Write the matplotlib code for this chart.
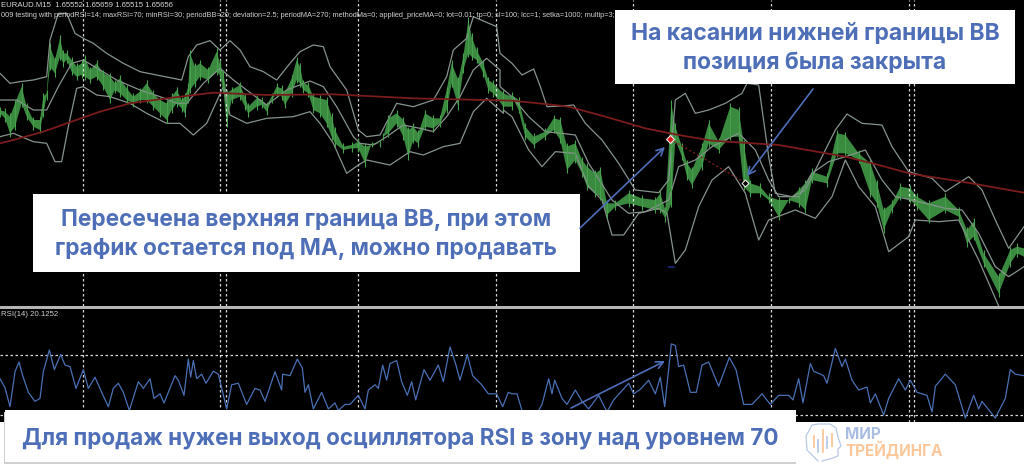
import numpy as np
import matplotlib
matplotlib.use('Agg')
import matplotlib.pyplot as plt

plt.rcParams['font.family'] = ['Inter', 'DejaVu Sans']

# everything, x in bars, y in chart units (top pane)
price_x_l = [0,15,30,45,65,80,100,120,130,140,150,165,180,190,200,215,230,245,255,270,290,310,330,345,360,380,400,420,440,460,480,500,515,530,545,555,565,570,585,600,625,650,660,670,680,695,720,735,745,770,785,800,815,830,845,855,875,890,900,910,925,940,960,980,995,1005,1030,1055,1075,1095,1115,1140,1150,1165,1190,1210,1225,1240,1255,1275,1300,1320,1340,1355,1375,1390,1405,1415,1430,1450,1465,1480,1510,1536]
price_hi_l = [320,325,340,300,250,310,350,350,280,270,130,170,105,150,150,170,190,180,165,200,180,210,220,240,225,255,280,265,240,270,290,300,280,260,290,280,250,150,190,180,200,145,180,210,270,260,245,280,310,285,290,305,280,250,255,270,225,170,190,240,245,280,285,290,340,380,430,425,415,430,425,420,400,345,330,350,380,370,390,330,345,345,260,180,230,160,50,100,140,180,230,240,270,280]
price_lo_l = [350,365,410,390,320,360,390,400,350,300,210,230,180,200,190,225,240,235,240,250,240,270,310,280,290,310,320,310,310,330,350,370,340,320,335,350,310,280,260,240,250,225,235,280,380,310,300,330,350,330,325,345,310,290,300,325,290,250,260,280,290,340,350,380,420,440,460,455,455,500,440,440,420,410,380,420,480,430,440,390,395,380,340,260,330,220,170,180,190,230,280,290,330,330]

price_x_r = [0,20,40,65,100,125,145,165,190,210,225,250,265,285,310,350,390,430,445,460,478,490,510,525,540,570,590,620,655,680,695,715,745,770,800,830,860,880,900,945,975,1000,1040,1075,1095,1115,1140,1165,1195,1215,1250,1300,1340,1365,1385,1415,1460,1495,1515,1536]
price_hi_r = [275,290,370,400,385,345,350,430,420,470,490,510,500,600,600,570,585,590,570,620,300,370,430,480,500,430,360,415,310,320,420,540,550,580,590,590,560,540,505,520,390,395,450,480,540,620,600,550,555,580,600,580,620,680,655,750,820,740,730,735]
price_lo_r = [300,340,420,445,420,400,430,520,490,530,570,590,600,655,630,620,630,640,640,665,620,430,480,540,565,510,440,460,420,420,570,590,590,610,660,610,620,640,550,560,470,470,490,590,620,700,640,600,610,630,670,640,660,740,720,800,890,800,770,780]

ma_x_l = [0,40,130,200,300,390,500,640,800,1000,1100,1240]
ma_y_l = [430,420,395,370,335,310,295,278,285,283,288,295]
ma_x_r = [0,100,170,280,400,500,600,800,1000,1100,1200,1350,1536]
ma_y_r = [302,312,320,350,385,405,422,435,470,495,522,545,578]

bb_up_x_l = [0,30,60,100,140,150,175,200,225,250,280,320,370,420,470,520,545,565,590,630,660,690,720,750,790,830,870,900,940,970,990,1040,1075,1100,1140,1190,1240,1300,1340,1360,1400,1420,1490]
bb_up_y_l = [220,250,245,240,230,120,40,40,100,115,130,160,190,215,225,235,240,170,135,122,150,122,150,200,215,240,190,155,135,140,200,270,390,410,405,310,320,300,230,150,115,50,80]
bb_up_x_r = [-36,0,30,65,85,105,150,185,220,270,320,370,440,470,490,520,550,590,640,690,705,740,770,790,840,880,920,970,1005,1050,1110,1140,1190,1260,1300,1370,1410,1450,1490,1536]
bb_up_y_r = [160,190,225,207,260,320,318,315,370,420,490,570,578,540,300,280,340,330,310,280,250,255,470,580,590,570,490,390,342,370,375,440,515,535,575,530,570,660,745,680]

bb_md_x_l = [0,50,100,140,175,215,250,300,350,420,480,530,560,610,660,700,760,800,860,930,970,1010,1060,1080,1120,1160,1210,1260,1300,1340,1380,1420,1460,1500]
bb_md_y_l = [300,300,330,330,260,190,180,210,240,270,290,310,310,250,205,240,285,315,270,243,260,320,410,430,435,410,375,385,395,350,290,210,175,210]
bb_md_x_r = [-36,0,50,100,150,190,230,300,350,400,450,470,500,550,600,680,730,770,800,860,900,950,1000,1060,1110,1150,1200,1300,1350,1400,1450,1490,1536]
bb_md_y_r = [260,290,350,395,400,405,490,600,640,635,610,600,500,480,440,400,450,540,590,590,520,485,470,450,540,590,600,625,630,700,800,830,800]

bb_lo_x_l = [0,40,100,140,165,185,205,230,250,290,330,390,440,500,540,580,620,670,690,740,800,880,930,960,1000,1040,1075,1100,1170,1230,1270,1330,1380,1420,1460,1510]
bb_lo_y_l = [410,400,425,430,485,485,380,265,260,285,290,310,340,370,370,405,370,260,345,370,355,350,335,370,430,520,495,480,495,455,465,440,430,335,295,340]
bb_lo_x_r = [-26,0,50,90,130,190,230,270,300,335,380,440,465,490,520,560,600,650,700,740,770,850,910,960,1000,1040,1090,1130,1190,1210,1280,1340,1400,1460]
bb_lo_y_r = [330,350,450,500,455,460,560,600,705,705,640,625,640,790,750,620,540,500,580,720,660,630,655,590,480,560,620,755,710,660,665,660,780,918]

# RSI
rsi_x_l = [0,15,30,45,57,68,85,105,120,130,148,163,182,195,210,228,250,265,285,305,325,340,355,370,388,415,430,450,462,480,492,505,525,535,552,565,572,580,590,605,618,640,655,680,695,715,740,765,780,795,825,845,848,870,892,907,915,925,940,965,985,1005,1015,1035,1050,1075,1095,1105,1125,1135,1148,1160,1170,1190,1205,1222,1235,1247,1272,1290,1315,1330,1350,1368,1380,1402,1418,1445,1465,1490,1508,1525]
rsi_v_l = [54,48,35.5,58.6,65,56,45,39,41,58.6,73,60,70,63,62,47.6,60,47.6,55,45,35.5,47.6,51,45,33,52,47.6,54,41,44,38,45,56,53,43,67,55,66,54,57,51,59,57,34,50,51,37,47.6,46.5,39,58.6,46.5,57,56,67,61,45,50,34,45,34,38,33,37,37,43,34,46.5,50,47.6,63,53,64,66,52,43,52,40,60,53,63,52,75,63,53,70,56,50,44,44,35.5,45]
rsi_x_r = [0,15,30,60,90,110,120,128,150,165,190,210,230,260,285,305,350,365,385,410,430,445,458,478,490,500,515,535,553,570,590,620,652,672,695,720,750,775,800,830,843,860,873,895,905,935,945,970,990,1000,1020,1040,1065,1075,1090,1115,1130,1160,1180,1195,1215,1245,1260,1270,1300,1330,1360,1385,1400,1410,1450,1480,1495,1510,1536]
rsi_v_r = [44,44,33,25,37,54,44,53,41,37,46.5,39,34,43,32,40,51,44,47,53,44,55,35.5,77,76,62,63,45,45,63,65,49,68,60,37,37,44,37,43,43,40,54,38,64,59,56,51,74,62,67,53,46.5,48.5,38,44,30,41,54,46.5,53,45,43,32,49,57,50,28,43,34,39,28,41,60,57,56]

rsi_levels = [70, 30]
sessions = [248,661,679,1075,1487,1900,2314,2726,2743]

entry = [2010, 417]
close = [2236, 548]

txt_top = 'EURAUD.M15  1.65552 1.65659 1.65515 1.65656'
txt_ea = '009 testing with periodRSI=14; maxRSI=70; minRSI=30; periodBB=20; deviation=2.5; periodMA=270; methodMa=0; applied_priceMA=0; lot=0.01; tp=0; sl=100; lcc=1; setka=1000; multip=3; maxKolOrd'

off = 1536
price_x = np.array(price_x_l + [v + off for v in price_x_r])
price_hi = np.array(price_hi_l + price_hi_r)
price_lo = np.array(price_lo_l + price_lo_r)
ma_x = np.array(ma_x_l + [v + off for v in ma_x_r])
ma_y = np.array(ma_y_l + ma_y_r)
up_x = np.array(bb_up_x_l + [v + off for v in bb_up_x_r])
up_y = np.array(bb_up_y_l + bb_up_y_r)
md_x = np.array(bb_md_x_l + [v + off for v in bb_md_x_r])
md_y = np.array(bb_md_y_l + bb_md_y_r)
lo_x = np.array(bb_lo_x_l + [v + off for v in bb_lo_x_r])
lo_y = np.array(bb_lo_y_l + bb_lo_y_r)
rsi_x = np.array(rsi_x_l + [v + off for v in rsi_x_r])
rsi_v = np.array(rsi_v_l + rsi_v_r)

W, H = 1024, 473
fig = plt.figure(figsize=(W / 100, H / 100), dpi=100, facecolor='white')

# price pane
ax = fig.add_axes([0, 1 - 306 / H, 1, 306 / H], facecolor='black')
ax.set_xlim(0, 3072)
ax.set_ylim(918, 0)
ax.set_xticks([])
ax.set_yticks([])
for s in ax.spines.values():
    s.set_visible(False)
for v in sessions:
    ax.axvline(v, color='white', lw=0.9, ls=(0, (2, 2)), alpha=.85)
ax.plot(up_x, up_y, color='#86948c', lw=0.9)
ax.plot(md_x, md_y, color='#86948c', lw=0.9)
ax.plot(lo_x, lo_y, color='#86948c', lw=0.9)
ax.fill_between(price_x, price_hi + 10, price_lo - 10, color='#3a8a40', lw=0)
ax.vlines(price_x, price_hi, price_lo, color='#46a04c', lw=0.8)
ax.plot(ma_x, ma_y, color='#7a1c1c', lw=1.3)
ax.plot([entry[0], close[0]], [entry[1], close[1]], color='#8c2020', lw=0.8, ls=(0, (2, 2)))
ax.plot(entry[0], entry[1], marker='D', ms=4, mfc='#d81f1f', mec='white', mew=0.7)
ax.plot(close[0], close[1], marker='D', ms=3.5, mfc='black', mec='white', mew=0.7)
ax.plot([2008, 2022], [800, 800], color='#1c2a80', lw=1.2)
ax.text(3, 15, txt_top, color='#d8d8d8', fontsize=5.6, va='center', family='Liberation Sans')
ax.text(3, 46, txt_ea, color='#d0d0d0', fontsize=5.3, va='center', family='Liberation Sans')

# rsi pane, level 70 and 30 are 60.5 px apart
ax2 = fig.add_axes([0, 1 - 421.5 / H, 1, 112.5 / H], facecolor='black')
ax2.set_xlim(0, 3072)
ax2.set_ylim(70 - (421.5 - 354.5) / 1.5125, 70 + (354.5 - 309) / 1.5125)
ax2.set_xticks([])
ax2.set_yticks([])
for s in ax2.spines.values():
    s.set_visible(False)
for v in sessions:
    ax2.axvline(v, color='white', lw=0.9, ls=(0, (2, 2)), alpha=.85)
for v in rsi_levels:
    ax2.axhline(v, color='white', lw=0.9, ls=(0, (2, 2)), alpha=.85)
ax2.plot(rsi_x, rsi_v, color='#4a70b4', lw=0.9)
ax2.text(3, 96.5, 'RSI(14) 20.1252', color='#d0d0d0', fontsize=5.6, va='center', family='Liberation Sans')

# separator strip between the panes
fig.add_artist(plt.Rectangle((0, 1 - 309 / H), 1, 3 / H, transform=fig.transFigure, color='#b5b5b5', lw=0))

# overlay with labels, arrows and logo, in picture pixels
ov = fig.add_axes([0, 0, 1, 1], facecolor='none')
ov.set_xlim(0, W)
ov.set_ylim(H, 0)
ov.axis('off')

blue = '#4e6fb8'
ov.add_patch(plt.Rectangle((4, 412), 792, 52, color='#d0d0d0', lw=0))
ov.add_patch(plt.Rectangle((5, 410), 791, 52, color='white', lw=0))
ov.add_patch(plt.Rectangle((615, 10.5), 400, 73.5, color='white', lw=0))
ov.add_patch(plt.Rectangle((33, 194), 547, 78, color='white', lw=0))

ov.text(815, 34, 'На касании нижней границы ВВ', color=blue, fontsize=16.5, fontweight='bold', ha='center', va='center')
ov.text(815, 63, 'позиция была закрыта', color=blue, fontsize=16.5, fontweight='bold', ha='center', va='center')
ov.text(306, 220, 'Пересечена верхняя граница ВВ, при этом', color=blue, fontsize=16.3, fontweight='bold', ha='center', va='center')
ov.text(306, 249, 'график остается под МА, можно продавать', color=blue, fontsize=16.3, fontweight='bold', ha='center', va='center')
ov.text(400, 438, 'Для продаж нужен выход осциллятора RSI в зону над уровнем 70', color=blue, fontsize=16.2, fontweight='bold', ha='center', va='center')

for a, b in [((580, 228), (665, 147)), ((813, 89), (747, 176)), ((571, 408), (665, 361))]:
    ov.annotate('', xy=b, xytext=a, arrowprops=dict(arrowstyle='->', color=blue, lw=1.2, mutation_scale=13, shrinkA=0, shrinkB=0))

# logo
head_x = [818,807,806,810,812,812,818,830,836,838,841,838,838,830,822,822]
head_y = [461,450,436,429,425,425,424,424,428,437,446,449,456,459,461,461]
ov.plot(head_x, head_y, color='#b9c8e6', lw=0.9)
for x, a, b, c in [(814,436,447,'#fcc79a'),(818,440,452,'#b9c8e6'),(823,430,452,'#fcc79a'),(827,437,448,'#b9c8e6'),(832,434,446,'#fcc79a')]:
    ov.plot([x, x], [a, b], color=c, lw=1.3)
ov.text(845, 434, 'МИР', color='#a9bde3', fontsize=11, fontweight='bold', va='center')
ov.text(845, 450, 'ТРЕЙДИНГА', color='#fcc79a', fontsize=11, fontweight='bold', va='center')

plt.savefig('out.png', dpi=100)
